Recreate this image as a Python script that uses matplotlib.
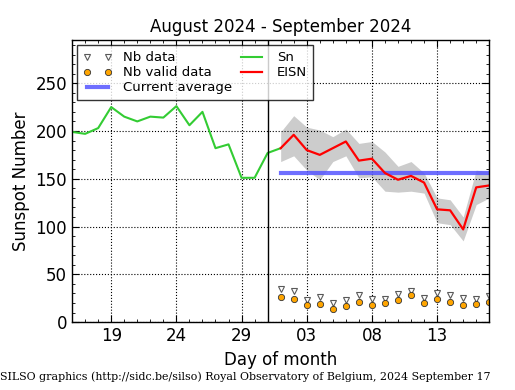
import numpy as np
import pandas as pd
import matplotlib
matplotlib.use("Agg")
import matplotlib.pyplot as plt
import matplotlib.dates as mdates
from matplotlib.ticker import MultipleLocator

# Sn (definitive-ish daily values), Aug 16 -> Sep 1
sn_dates = pd.date_range("2024-08-16", "2024-09-01", freq="D")
sn = [199, 197, 203, 225, 215, 210, 215, 214, 226, 206, 220, 182, 186, 151, 151, 177, 182]

# EISN with error band, Sep 1 -> Sep 17
ei_dates = pd.date_range("2024-09-01", "2024-09-17", freq="D")
eisn = [182, 196, 180, 175, 182, 189, 169, 171, 156, 149, 153, 146, 118, 117, 97, 141, 143]
eisn_hi = [199, 216, 204, 201, 194, 202, 187, 189, 178, 163, 168, 156, 130, 128, 110, 159, 157]
eisn_lo = [168, 174, 159, 149, 168, 174, 151, 152, 137, 136, 137, 135, 104, 102, 85, 123, 130]

# number of stations
nb_data = [35, 33, 23, 26, 20, 23, 28, 24, 24, 29, 33, 25, 30, 28, 25, 24, 27]
nb_valid = [26, 24, 18, 19, 14, 17, 21, 18, 20, 23, 28, 20, 24, 21, 18, 19, 21]

current_avg = 156.5

fig = plt.figure(figsize=(5.15, 3.9), dpi=100)
ax = fig.add_axes([0.140, 0.174, 0.810, 0.723])

ax.fill_between(ei_dates, eisn_lo, eisn_hi, color="0.8", lw=0)
ax.plot(ei_dates, nb_data, "v", ms=4, mfc="white", mec="0.35", mew=0.8, ls="none", label="Nb data")
ax.plot(ei_dates, nb_valid, "o", ms=4.5, mfc="orange", mec="0.2", mew=0.6, ls="none", label="Nb valid data")
ax.plot([ei_dates[0], pd.Timestamp("2024-09-17")], [current_avg, current_avg],
        color="#5555ff", lw=3, alpha=0.85, label="Current average")
ax.plot(sn_dates, sn, color="#33cc33", lw=1.5, label="Sn")
ax.plot(ei_dates, eisn, color="red", lw=1.6, label="EISN")
ax.axvline(pd.Timestamp("2024-08-31"), color="black", lw=1)

ax.set_xlim(pd.Timestamp("2024-08-16"), pd.Timestamp("2024-09-17"))
ax.set_ylim(0, 295)

ax.xaxis.set_major_locator(mdates.DayLocator(bymonthday=[19, 24, 29, 3, 8, 13]))
ax.xaxis.set_major_formatter(mdates.DateFormatter("%d"))
ax.xaxis.set_minor_locator(mdates.DayLocator())
ax.yaxis.set_major_locator(MultipleLocator(50))
ax.yaxis.set_minor_locator(MultipleLocator(10))
ax.tick_params(which="both", direction="in", top=True, right=True, labelsize=12)
ax.tick_params(which="major", length=5)
ax.tick_params(which="minor", length=2.5)
ax.grid(True, which="major", color="black", ls=":", lw=0.8)
for s in ax.spines.values():
    s.set_linewidth(1)

ax.set_title("August 2024 - September 2024", fontsize=12)
ax.set_xlabel("Day of month", fontsize=12)
ax.set_ylabel("Sunspot Number", fontsize=12)

leg = ax.legend(loc="upper left", ncol=2, numpoints=2, fontsize=9.5, fancybox=False,
                borderaxespad=0.4, handlelength=2.2, columnspacing=0.4, labelspacing=0.15,
                borderpad=0.45)
leg.get_frame().set_edgecolor("black")
leg.get_frame().set_linewidth(1)

fig.text(0.0, 0.02, "SILSO graphics (http://sidc.be/silso) Royal Observatory of Belgium, 2024 September 17",
         fontsize=7.9, family="DejaVu Serif", ha="left", va="bottom")

fig.savefig("out.png", dpi=100, facecolor="white")
